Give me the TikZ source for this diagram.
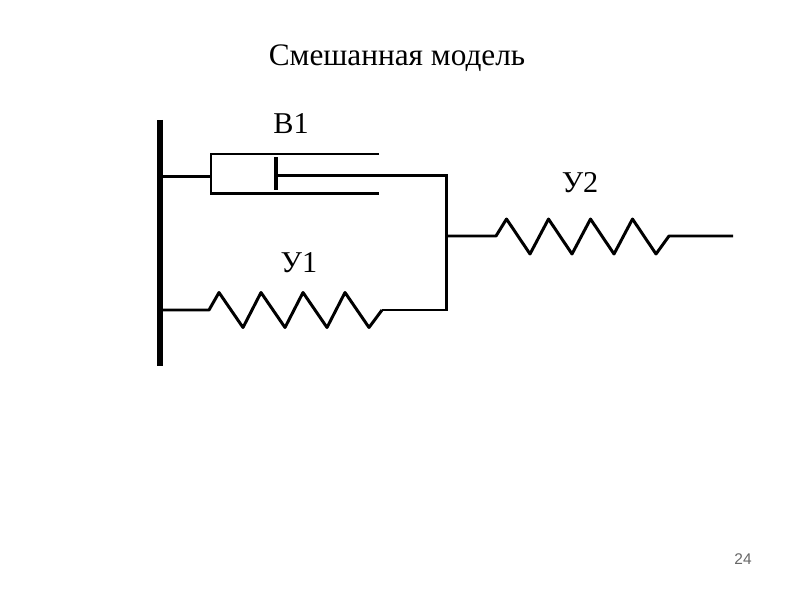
\documentclass[tikz,border=0pt]{standalone}
\usepackage{fontspec}
\setmainfont{Liberation Serif}
\newfontfamily\numfont{Liberation Sans}
\tikzset{
  thinline/.style={line width=0.6pt},
  thickline/.style={line width=0.85pt},
  label/.style={font=\fontsize{8.6}{11}\selectfont, inner sep=0pt},
}
\begin{document}
\begin{tikzpicture}[scale=1.0]
\useasboundingbox (0,0) rectangle (8,6);

\node[label, font=\fontsize{8.9}{11}\selectfont] (title) at (3.97,5.42) {Смешанная модель};
\node[label] (b1) at (2.91,4.76) {В1};
\node[label] (u1) at (2.99,3.37) {У1};
\node[label] (u2) at (5.80,4.17) {У2};
\node[font=\fontsize{4.4}{5}\selectfont\numfont, text=black!60, inner sep=0pt] (pagenum) at (7.43,0.41) {24};

% wall
\coordinate (walltop) at (1.60,4.80);
\coordinate (wallbot) at (1.60,2.34);
\draw[line width=1.85pt] (walltop) -- (wallbot);

% dashpot
\coordinate (wallb) at (1.60,4.235);
\coordinate (cylmid) at (2.11,4.235);
\coordinate (cyltop) at (3.79,4.46);
\coordinate (cylbot) at (3.79,4.065);
\draw[thinline] (wallb) -- (cylmid);
\draw[thinline] (cyltop) -- (2.11,4.46) -- (2.11,4.065) -- (cylbot);
\coordinate (pistontop) at (2.76,4.43);
\coordinate (pistonbot) at (2.76,4.10);
\draw[line width=1.4pt] (pistontop) -- (pistonbot);

% frame on the right
\coordinate (rod) at (2.76,4.245);
\coordinate (framea) at (4.465,4.245);
\coordinate (frameb) at (4.465,2.90);
\draw[thickline] (rod) -- (framea) -- (frameb) -- (3.82,2.90);

% lower spring
\coordinate (wallu) at (1.60,2.90);
\coordinate (springa) at (2.09,2.90);
\draw[thickline, line join=round] (wallu) -- (springa) -- ++(0.10,0.175)
  foreach \i in {1,...,3} { -- ++(0.24,-0.35) -- ++(0.18,0.35) }
  -- ++(0.24,-0.35) -- (3.82,2.90);

% right spring
\coordinate (framec) at (4.465,3.64);
\coordinate (springb) at (4.96,3.64);
\coordinate (free) at (7.33,3.64);
\draw[thickline, line join=round] (framec) -- (springb) -- ++(0.105,0.17)
  foreach \i in {1,...,3} { -- ++(0.235,-0.35) -- ++(0.185,0.35) }
  -- ++(0.235,-0.35) -- (6.69,3.64) -- (free);
\end{tikzpicture}
\end{document}
